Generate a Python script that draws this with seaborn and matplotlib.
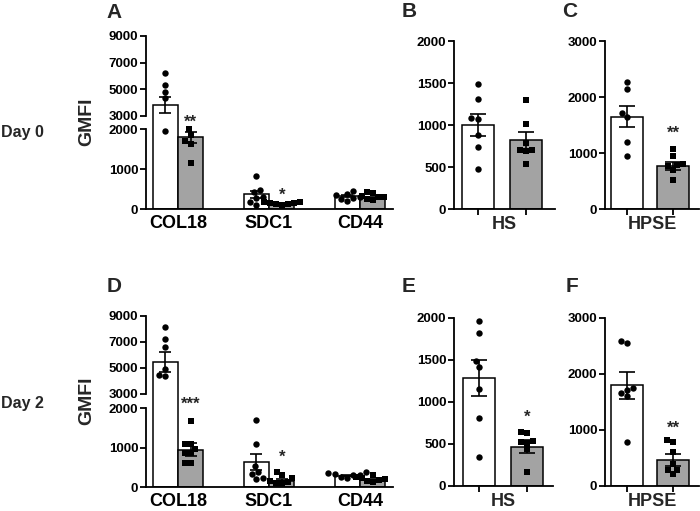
import matplotlib
matplotlib.use("Agg")
import matplotlib.pyplot as plt
import numpy as np
import pandas as pd
import seaborn as sns

sns.set_style("ticks")
plt.rcParams["font.family"] = ["Liberation Sans", "DejaVu Sans"]
plt.rcParams["font.weight"] = "bold"
plt.rcParams["axes.linewidth"] = 1.3
plt.rcParams["axes.edgecolor"] = "black"
plt.rcParams["xtick.color"] = "black"
plt.rcParams["ytick.color"] = "black"

# ---------------- data ----------------
markers = ["COL18", "SDC1", "CD44"]
groups = ["Control", "Treated"]

# Day 0 - markers (panel A)
d0_ctrl_mean = [3860, 370, 320]
d0_ctrl_sem = [600, 85, 30]
d0_trt_mean = [1790, 140, 280]
d0_trt_sem = [140, 12, 30]
d0_ctrl_pts = [[6200, 5330, 4820, 4320, 1940],
               [825, 470, 420, 310, 270, 170, 110],
               [460, 370, 360, 300, 280, 250, 210]]
d0_trt_pts = [[2000, 1860, 1690, 1630, 1160],
              [185, 170, 160, 150, 130, 120, 110],
              [430, 400, 330, 300, 290, 250, 220]]

# Day 2 - markers (panel D)
d2_ctrl_mean = [5450, 630, 290]
d2_ctrl_sem = [750, 210, 20]
d2_trt_mean = [945, 160, 180]
d2_trt_sem = [160, 45, 25]
d2_ctrl_pts = [[8150, 7260, 6620, 4900, 4450, 4350],
               [1690, 1100, 520, 380, 320, 230, 190],
               [370, 360, 340, 310, 300, 250, 230]]
d2_trt_pts = [[1670, 1100, 1080, 950, 850, 850, 620, 610],
              [390, 300, 220, 140, 120, 100, 90],
              [300, 260, 240, 200, 180, 160, 130]]

# HS (panels B, E)
hs_d0_mean = [1000, 820]
hs_d0_sem = [130, 100]
hs_d0_ctrl_pts = [1490, 1310, 1080, 1070, 880, 740, 480]
hs_d0_trt_pts = [1300, 1010, 790, 700, 700, 690, 540]
hs_d2_mean = [1285, 470]
hs_d2_sem = [215, 72]
hs_d2_ctrl_pts = [1960, 1825, 1483, 1416, 1153, 815, 342]
hs_d2_trt_pts = [640, 630, 530, 520, 510, 440, 170]

# HPSE (panels C, F)
hpse_d0_mean = [1650, 775]
hpse_d0_sem = [185, 70]
hpse_d0_ctrl_pts = [2270, 2140, 1720, 1640, 1200, 950]
hpse_d0_trt_pts = [1080, 950, 810, 780, 760, 700, 520]
hpse_d2_mean = [1795, 465]
hpse_d2_sem = [235, 100]
hpse_d2_ctrl_pts = [2590, 2550, 1750, 1720, 1660, 1600, 780]
hpse_d2_trt_pts = [820, 780, 600, 400, 290, 280, 210]

# ---------------- figure ----------------
W, H = 700, 511
fig = plt.figure(figsize=(W / 100, H / 100), dpi=100)
fig.patch.set_facecolor("white")

PAL = {"Control": "white", "Treated": "#a3a3a3"}
MK = {"Control": "o", "Treated": "s"}
MS = {"Control": 4.6, "Treated": 4.2}
STAR_FS = 12
YT_FS = 9.5
XL_FS = 13


def px_ax(x0, y0, x1, y1):
    return fig.add_axes([x0 / W, 1 - y1 / H, (x1 - x0) / W, (y1 - y0) / H])


def add_swarm(ax, xpos, vals, grp, clip=True):
    if len(vals) == 0:
        return
    pdf = pd.DataFrame({"x": [xpos] * len(vals), "v": vals})
    n0 = len(ax.collections)
    sns.swarmplot(data=pdf, x="x", y="v", native_scale=True, orient="x",
                  color="black", marker=MK[grp], size=MS[grp], linewidth=0,
                  ax=ax, zorder=4, warn_thresh=1)
    for c in ax.collections[n0:]:
        c.set_clip_on(clip)


def star(ax, x, y, txt):
    ax.annotate(txt, xy=(x, y), xytext=(0, -6.8), textcoords="offset points",
                ha="center", va="baseline", fontsize=STAR_FS, fontweight="bold",
                annotation_clip=False)


def marker_panel(x0, x1, c0, spacing, y9000, y3000, y2000, y0,
                 cm, cs, tm, ts, cp, tp, stars):
    ppu = (y3000 - y9000) / 6000.0
    low_top = 3000 - (y2000 - y3000) / ppu
    ax_t = px_ax(x0, y9000, x1, y2000)
    ax_b = px_ax(x0, y2000, x1, y0)
    df = pd.DataFrame({"marker": markers * 2,
                       "group": [groups[0]] * 3 + [groups[1]] * 3,
                       "mean": cm + tm, "sem": cs + ts})
    xl = -(c0 - x0) / spacing
    xr = (x1 - c0) / spacing
    out = {}
    for ax, lo, hi in ((ax_t, low_top, 9000), (ax_b, 0, 2000)):
        sns.barplot(data=df, x="marker", y="mean", hue="group", order=markers,
                    hue_order=groups, palette=PAL, width=0.56, saturation=1,
                    edgecolor="black", linewidth=1.1, errorbar=None,
                    legend=False, ax=ax, zorder=1)
        centers = {}
        for p in ax.patches:
            c = p.get_x() + p.get_width() / 2
            i = int(round(c))
            centers[(i, 0 if c < i else 1)] = c
        xs = [centers[(i, h)] for h in range(2) for i in range(3)]
        ax.errorbar(xs, df["mean"], yerr=df["sem"], fmt="none", ecolor="black",
                    elinewidth=1.2, capsize=4.3, capthick=1.2, zorder=3)
        for h, plist in enumerate((cp, tp)):
            for i, vals in enumerate(plist):
                if ax is ax_t:
                    sel = [v for v in vals if v > 2500]
                    add_swarm(ax, centers[(i, h)], sel, groups[h], True)
                else:
                    sel = [v for v in vals if v <= 2500]
                    add_swarm(ax, centers[(i, h)], sel, groups[h], False)
        ax.set_xlim(xl, xr)
        ax.set_ylim(lo, hi)
        ax.set_xlabel("")
        ax.set_ylabel("")
        for s in ("top", "right"):
            ax.spines[s].set_visible(False)
        ax.tick_params(axis="y", labelsize=YT_FS, width=1.3, length=4, pad=1.5)
        out[ax] = centers
    ax_t.spines["bottom"].set_visible(False)
    ax_t.spines["left"].set_bounds(3000, 9000)
    ax_t.set_yticks([3000, 5000, 7000, 9000])
    ax_t.set_xticks([])
    ax_b.set_yticks([0, 1000, 2000])
    ax_b.set_xticks(range(3))
    ax_b.set_xticklabels(markers)
    ax_b.tick_params(axis="x", length=0, labelsize=XL_FS, pad=4)
    for which, i, h, y, txt in stars:
        ax = ax_t if which == "top" else ax_b
        star(ax, out[ax][(i, h)], y, txt)
    return ax_t, ax_b


def single_panel(x0, x1, c0, spacing, ytop, ybot, ymax, yticks, label,
                 means, sems, cp, tp, star_info):
    ax = px_ax(x0, ytop, x1, ybot)
    df = pd.DataFrame({"group": groups, "mean": means, "sem": sems})
    sns.barplot(data=df, x="group", y="mean", hue="group", order=groups,
                hue_order=groups, palette=PAL, width=32 / spacing, saturation=1,
                edgecolor="black", linewidth=1.1, errorbar=None, legend=False,
                ax=ax, zorder=1)
    xs = [p.get_x() + p.get_width() / 2 for p in sorted(ax.patches, key=lambda p: p.get_x())]
    ax.errorbar(xs, df["mean"], yerr=df["sem"], fmt="none", ecolor="black",
                elinewidth=1.2, capsize=5.5, capthick=1.2, zorder=3)
    add_swarm(ax, xs[0], cp, groups[0], False)
    add_swarm(ax, xs[1], tp, groups[1], False)
    ax.set_xlim(-(c0 - x0) / spacing, (x1 - c0) / spacing)
    ax.set_ylim(0, ymax)
    ax.set_yticks(yticks)
    ax.set_xticks(xs)
    ax.set_xticklabels(["", ""])
    for s in ("top", "right"):
        ax.spines[s].set_visible(False)
    ax.tick_params(axis="y", labelsize=YT_FS, width=1.3, length=4, pad=1.5)
    ax.tick_params(axis="x", width=1.3, length=4, pad=0)
    ax.set_ylabel("")
    ax.set_xlabel(label, fontsize=XL_FS, fontweight="bold", labelpad=1)
    if star_info is not None:
        h, y, txt = star_info
        star(ax, xs[h], y, txt)
    return ax


# Row 1 (Day 0)
marker_panel(146, 393, 178, 91, 36, 116, 129, 209,
             d0_ctrl_mean, d0_ctrl_sem, d0_trt_mean, d0_trt_sem,
             d0_ctrl_pts, d0_trt_pts,
             [("top", 0, 1, 2925, "**"), ("bot", 1, 1, 475, "*")])
single_panel(454, 555, 478, 48, 41, 209, 2000, [0, 500, 1000, 1500, 2000], "HS",
             hs_d0_mean, hs_d0_sem, hs_d0_ctrl_pts, hs_d0_trt_pts, None)
single_panel(605, 699, 627, 46, 41, 209, 3000, [0, 1000, 2000, 3000], "HPSE",
             hpse_d0_mean, hpse_d0_sem, hpse_d0_ctrl_pts, hpse_d0_trt_pts,
             (1, 1446, "**"))

# Row 2 (Day 2)
marker_panel(146, 393, 178, 91, 316, 394, 408, 487,
             d2_ctrl_mean, d2_ctrl_sem, d2_trt_mean, d2_trt_sem,
             d2_ctrl_pts, d2_trt_pts,
             [("top", 0, 1, 2615, "***"), ("bot", 1, 1, 886, "*")])
single_panel(454, 553, 479, 48, 318, 486, 2000, [0, 500, 1000, 1500, 2000], "HS",
             hs_d2_mean, hs_d2_sem, hs_d2_ctrl_pts, hs_d2_trt_pts, (1, 880, "*"))
single_panel(605, 699, 627, 46, 318, 486, 3000, [0, 1000, 2000, 3000], "HPSE",
             hpse_d2_mean, hpse_d2_sem, hpse_d2_ctrl_pts, hpse_d2_trt_pts,
             (1, 1125, "**"))

# Texts
def ftxt(x, y, s, **kw):
    fig.text(x / W, 1 - y / H, s, ha="center", va="center", fontweight="bold", **kw)

for (x, y, s) in [(114, 12, "A"), (409, 11, "B"), (570, 11, "C"),
                  (114, 286, "D"), (409, 286, "E"), (572, 286, "F")]:
    ftxt(x, y, s, fontsize=15)
ftxt(87, 122, "GMFI", fontsize=14, rotation=90)
ftxt(87, 401, "GMFI", fontsize=14, rotation=90)
ftxt(22, 133, "Day 0", fontsize=11.5)
ftxt(22, 403, "Day 2", fontsize=11.5)

fig.savefig("out.png", dpi=100, facecolor="white")
